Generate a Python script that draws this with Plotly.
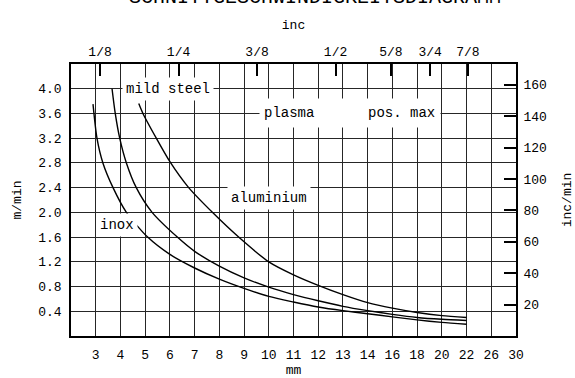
import numpy as np
import plotly.graph_objects as go

# ---- axis categories / labels ----
tick_mm = [3, 4, 5, 6, 7, 8, 9, 10, 11, 12, 13, 14, 16, 18, 20, 22, 26, 30]
tick_labels = [str(v) for v in tick_mm]
y_ticks = [0.4, 0.8, 1.2, 1.6, 2.0, 2.4, 2.8, 3.2, 3.6, 4.0]
inch_labels = ["1/8", "1/4", "3/8", "1/2", "5/8", "3/4", "7/8"]
inch_values = [1/8, 1/4, 3/8, 1/2, 5/8, 3/4, 7/8]
inc_min_ticks = [20, 40, 60, 80, 100, 120, 140, 160]

# ---- series (thickness mm -> speed m/min) ----
inox_mm = [2.89, 3.05, 3.29, 3.70, 4.24, 5.10, 6.0, 7.0, 8.0, 9.0, 10.0, 11.0, 12.0, 13.0, 14.0, 16.0, 18.0, 20.0, 22.0]
inox_v = [3.75, 3.20, 2.80, 2.40, 2.00, 1.60, 1.32, 1.10, 0.92, 0.77, 0.64, 0.55, 0.47, 0.41, 0.36, 0.31, 0.26, 0.22, 0.19]

mild_mm = [3.66, 3.79, 3.97, 4.24, 4.64, 5.28, 6.3, 7.0, 8.0, 9.0, 10.0, 11.0, 12.0, 13.0, 14.0, 16.0, 18.0, 20.0, 22.0]
mild_v = [4.00, 3.60, 3.20, 2.80, 2.40, 2.00, 1.60, 1.37, 1.13, 0.94, 0.79, 0.67, 0.57, 0.48, 0.41, 0.35, 0.30, 0.27, 0.25]

alu_mm = [4.74, 4.91, 5.45, 6.0, 6.76, 7.77, 8.78, 10.0, 11.0, 12.0, 13.0, 14.0, 16.0, 18.0, 20.0, 22.0]
alu_v = [3.76, 3.60, 3.20, 2.82, 2.40, 1.98, 1.60, 1.20, 0.99, 0.82, 0.67, 0.54, 0.45, 0.38, 0.33, 0.30]

# mapping thickness (mm) onto the evenly spaced tick scale of the chart
scale_mm = [2] + tick_mm
scale_pos = list(range(0, len(tick_mm) + 1))


def pos(mm):
    return np.interp(np.asarray(mm, dtype=float), scale_mm, scale_pos)


MM_PER_INCH = 25.4
M_TO_INCH = 39.3701
Y_MAX = 4.4

FONT = "Liberation Mono"
fig = go.Figure()

for xs, ys in [(inox_mm, inox_v), (mild_mm, mild_v), (alu_mm, alu_v)]:
    fig.add_trace(go.Scatter(x=pos(xs), y=ys, mode="lines",
                             line=dict(color="black", width=1.4, shape="spline", smoothing=0.7),
                             showlegend=False, hoverinfo="skip"))

# invisible traces to activate the secondary axes
fig.add_trace(go.Scatter(x=[0], y=[0], xaxis="x2", yaxis="y", mode="markers",
                         marker=dict(opacity=0), showlegend=False, hoverinfo="skip"))
fig.add_trace(go.Scatter(x=[0], y=[0], xaxis="x", yaxis="y2", mode="markers",
                         marker=dict(opacity=0), showlegend=False, hoverinfo="skip"))

grid_color = "#262626"
tick_font = dict(family=FONT, size=13, color="black")
title_font = dict(family=FONT, size=13, color="black")

fig.update_layout(
    width=575, height=378,
    margin=dict(l=71, r=59, t=64, b=42, autoexpand=False),
    paper_bgcolor="white", plot_bgcolor="white",
    title=dict(text="SCHNITTGESCHWINDIGKEITSDIAGRAMM",
               font=dict(family=FONT, size=20, color="black"),
               x=0.548, xanchor="center", yref="container", y=1.0 - 3 / 378, yanchor="bottom",
               automargin=False),
    xaxis=dict(range=[0, len(tick_mm)], tickvals=list(range(1, len(tick_mm) + 1)), ticktext=tick_labels,
               showgrid=True, gridcolor=grid_color, gridwidth=1, zeroline=False,
               showline=True, linecolor="black", linewidth=1.6, ticks="",
               tickfont=tick_font, ticklabelstandoff=6, automargin=False,
               title=dict(text="mm", font=title_font, standoff=21)),
    xaxis2=dict(range=[0, len(tick_mm)], overlaying="x", side="top", anchor="y",
                tickvals=list(pos([v * MM_PER_INCH for v in inch_values])), ticktext=inch_labels,
                ticks="inside", ticklen=12, tickwidth=1.5, tickcolor="black",
                showgrid=False, zeroline=False, showline=True, linecolor="black", linewidth=1.6,
                tickfont=tick_font, ticklabelstandoff=1, automargin=False,
                title=dict(text="inc", font=title_font, standoff=12)),
    yaxis=dict(range=[0, Y_MAX], tickvals=y_ticks, ticktext=[f"{v:.1f}" for v in y_ticks],
               showgrid=True, gridcolor=grid_color, gridwidth=1, zeroline=False,
               showline=True, linecolor="black", linewidth=1.6, ticks="",
               tickfont=tick_font, ticklabelstandoff=5, automargin=False,
               title=dict(text="m/min", font=title_font, standoff=14)),
    yaxis2=dict(range=[0, Y_MAX * M_TO_INCH], overlaying="y", side="right", anchor="x",
                tickvals=inc_min_ticks, ticks="inside", ticklen=12, tickwidth=1.5, tickcolor="black",
                showgrid=False, zeroline=False, showline=True, linecolor="black", linewidth=1.6,
                tickfont=tick_font, ticklabelstandoff=3, automargin=False,
                title=dict(text="inc/min", font=title_font, standoff=18)),
)

ann_font = dict(family=FONT, size=14, color="black")
fig.add_annotation(x=3.92, y=4.0, xref="x", yref="y", text="mild steel", showarrow=False,
                   font=ann_font, bgcolor="white", borderpad=3)
fig.add_annotation(x=7.62, y=3.6, xref="x", yref="y", text="plasma", showarrow=False,
                   font=ann_font, bgcolor="white", borderpad=4, xanchor="left",
                   width=172, height=20, align="left")
fig.add_annotation(x=13.37, y=3.6, xref="x", yref="y", text="pos. max", showarrow=False,
                   font=ann_font)
fig.add_annotation(x=7.99, y=2.24, xref="x", yref="y", text="aluminium", showarrow=False,
                   font=ann_font, bgcolor="white", borderpad=3)
fig.add_annotation(x=1.85, y=1.79, xref="x", yref="y", text="inox", showarrow=False,
                   font=ann_font, bgcolor="white", borderpad=3)

fig.write_html("out.html")
